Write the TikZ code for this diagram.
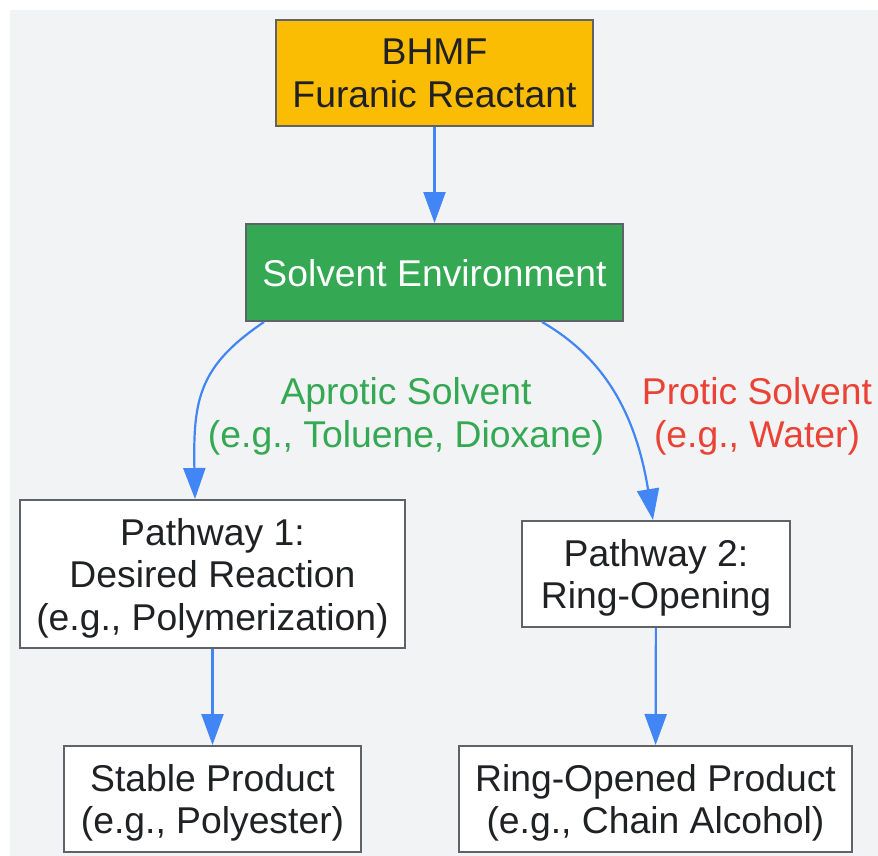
\documentclass[tikz,border=0pt]{standalone}
\usepackage{fontspec}
\setmainfont{Liberation Sans}
\usetikzlibrary{arrows.meta}
\definecolor{bgray}{HTML}{F1F3F4}
\definecolor{edgegray}{HTML}{5F6368}
\definecolor{txt}{HTML}{202124}
\definecolor{gyellow}{HTML}{FBBC04}
\definecolor{ggreen}{HTML}{34A853}
\definecolor{gred}{HTML}{EA4335}
\definecolor{gblue}{HTML}{4285F4}
\begin{document}
\begin{tikzpicture}[x=1pt, y=-1pt,
    box/.style={draw=edgegray, line width=2pt, fill=white, text=txt, align=center, inner sep=0pt,
                text depth=0pt, font=\fontsize{37.3}{42.5}\selectfont},
    lbl/.style={align=center, font=\fontsize{37.3}{43}\selectfont},
    arr/.style={draw=gblue, line width=2.2pt, -{Triangle[length=31pt, width=22pt]}}]
    \useasboundingbox (0,0) rectangle (878,856);
    \fill[bgray] (10,10) rectangle (878,856);

    \node[box, fill=gyellow, minimum width=317pt, minimum height=106pt] (bhmf) at (434.5,73) {BHMF\\Furanic Reactant};
    \node[box, fill=ggreen, text=white, minimum width=377pt, minimum height=97pt] (solv) at (434.5,272.5) {Solvent Environment};
    \node[box, minimum width=385pt, minimum height=148pt] (p1) at (212.5,574) {Pathway 1:\\Desired Reaction\\(e.g., Polymerization)};
    \node[box, minimum width=268pt, minimum height=106pt] (p2) at (656,574) {Pathway 2:\\Ring-Opening};
    \node[box, minimum width=297pt, minimum height=106pt] (stable) at (212.5,799) {Stable Product\\(e.g., Polyester)};
    \node[box, minimum width=393pt, minimum height=106pt] (ringop) at (655.5,799) {Ring-Opened Product\\(e.g., Chain Alcohol)};

    \node[lbl, text=ggreen] (aprotic) at (406,416) {Aprotic Solvent\\(e.g., Toluene, Dioxane)};
    \node[lbl, text=gred] (protic) at (757,416) {Protic Solvent\\(e.g., Water)};

    \draw[arr] (bhmf) -- (solv);
    \draw[arr] ([xshift=19pt]solv.south west) .. controls +(-65,44) and +(-2,-100) .. ([xshift=-17.5pt]p1.north);
    \draw[arr] ([xshift=-82pt]solv.south east) .. controls +(59,34) and +(-18,-111) .. ([xshift=-3pt]p2.north);
    \draw[arr] (p1) -- (stable);
    \draw[arr] (p2) -- (ringop);
\end{tikzpicture}
\end{document}
